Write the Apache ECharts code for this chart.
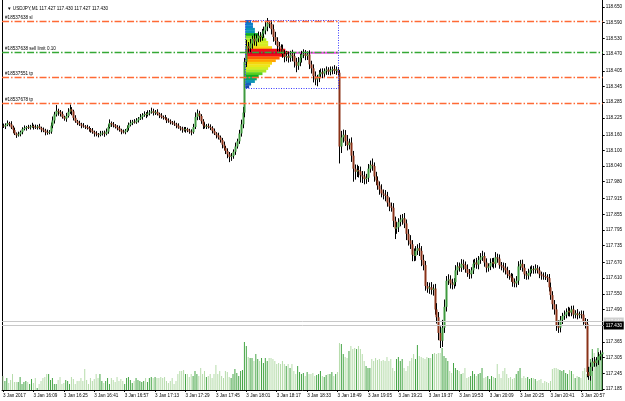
<!DOCTYPE html>
<html>
<head>
<meta charset="utf-8">
<script src="https://cdn.jsdelivr.net/npm/echarts@6/dist/echarts.min.js"></script>
<style>
  html, body { margin: 0; padding: 0; background: #fff; }
  #chart { width: 625px; height: 401px; }
</style>
</head>
<body>
<div id="chart"></div>
<script>
// USDJPY M1, 3 Jan 2017, first bar 15:53
const firstOpen = 118.195
const closes = [
  118.192, 118.198, 118.205, 118.200, 118.188, 118.178, 118.165, 118.158, 118.162, 118.170,
  118.182, 118.186, 118.190, 118.188, 118.192, 118.194, 118.190, 118.188, 118.192, 118.186,
  118.180, 118.176, 118.170, 118.168, 118.172, 118.195, 118.215, 118.238, 118.252, 118.248,
  118.240, 118.228, 118.222, 118.232, 118.248, 118.258, 118.250, 118.225, 118.212, 118.205,
  118.200, 118.195, 118.192, 118.190, 118.186, 118.182, 118.176, 118.170, 118.165, 118.162,
  118.160, 118.165, 118.168, 118.164, 118.172, 118.190, 118.205, 118.200, 118.196, 118.190,
  118.185, 118.178, 118.172, 118.170, 118.176, 118.186, 118.198, 118.205, 118.210, 118.208,
  118.215, 118.222, 118.228, 118.235, 118.240, 118.236, 118.242, 118.246, 118.250, 118.244,
  118.248, 118.240, 118.234, 118.228, 118.226, 118.222, 118.215, 118.212, 118.208, 118.204,
  118.200, 118.195, 118.188, 118.184, 118.180, 118.178, 118.182, 118.176, 118.172, 118.170,
  118.190, 118.228, 118.242, 118.232, 118.212, 118.196, 118.192, 118.194, 118.190, 118.186,
  118.175, 118.165, 118.158, 118.150, 118.140, 118.122, 118.110, 118.098, 118.085, 118.075,
  118.078, 118.095, 118.115, 118.135, 118.165, 118.200, 118.245, 118.440, 118.500, 118.492,
  118.510, 118.528, 118.518, 118.530, 118.540, 118.535, 118.548, 118.560, 118.575, 118.590,
  118.585, 118.565, 118.535, 118.520, 118.500, 118.495, 118.488, 118.470, 118.458, 118.462,
  118.455, 118.468, 118.462, 118.440, 118.425, 118.438, 118.455, 118.468, 118.470, 118.462,
  118.468, 118.430, 118.415, 118.385, 118.372, 118.378, 118.392, 118.400, 118.395, 118.405,
  118.410, 118.402, 118.408, 118.412, 118.405, 118.410, 118.398, 118.115, 118.150, 118.160,
  118.135, 118.120, 118.130, 118.080, 118.030, 118.018, 118.025, 118.020, 118.005, 118.000,
  117.990, 117.995, 118.030, 118.045, 118.040, 118.000, 117.985, 117.965, 117.950, 117.935,
  117.930, 117.925, 117.900, 117.885, 117.880, 117.830, 117.800, 117.805, 117.825, 117.835,
  117.840, 117.820, 117.780, 117.755, 117.740, 117.700, 117.695, 117.715, 117.725, 117.715,
  117.680, 117.660, 117.580, 117.570, 117.575, 117.565, 117.570, 117.490, 117.460, 117.400,
  117.370, 117.420, 117.500, 117.600, 117.605, 117.590, 117.585, 117.595, 117.640, 117.655,
  117.650, 117.665, 117.660, 117.645, 117.630, 117.625, 117.640, 117.665, 117.670, 117.662,
  117.680, 117.690, 117.695, 117.670, 117.650, 117.655, 117.668, 117.672, 117.665, 117.690,
  117.685, 117.660, 117.655, 117.650, 117.640, 117.625, 117.618, 117.612, 117.595, 117.590,
  117.600, 117.655, 117.665, 117.650, 117.625, 117.620, 117.630, 117.640, 117.645, 117.642,
  117.648, 117.640, 117.625, 117.620, 117.618, 117.615, 117.610, 117.575, 117.545, 117.510,
  117.490, 117.430, 117.420, 117.450, 117.465, 117.470, 117.480, 117.485, 117.478, 117.490,
  117.470, 117.475, 117.468, 117.472, 117.470, 117.445, 117.435, 117.250, 117.235, 117.270,
  117.290, 117.285, 117.295, 117.310, 117.318, 117.325
]
// wick lengths above / below the body, in points (0.001)
const upperWick = [
  8,6,10,5,12,7,9,4,10,6, 7,10,4,8,6,12,5,9,6,10, 5,8,7,10,6,12,15,10,22,8, 7,10,5,12,14,18,8,6,10,5,
  9,6,10,5,8,7,4,10,6,9, 5,10,7,8,12,10,14,6,9,5, 7,10,5,8,6,10,9,12,7,10, 9,6,12,8,10,7,12,9,14,10,
  7,10,5,9,6,10,5,8,7,5, 10,6,9,5,7,10,8,5,7,9, 12,18,15,10,7,8,12,7,9,10, 7,9,5,10,7,8,12,7,10,9,
  12,9,15,10,14,18,22,15,24,16, 18,12,20,15,16,14,18,15,20,18, 8,15,18,20,14,16,12,18,15,20, 16,14,18,12,15,20,16,14,18,15,
  12,16,14,15,18,12,16,14,15,10, 12,9,14,10,15,12,10,10,25,20, 18,24,15,20,18,16,20,15,18,16, 20,15,18,16,24,14,18,15,16,20,
  15,18,16,20,15,18,16,20,15,18, 16,20,15,18,20,16,24,18,15,20, 18,20,16,15,18,20,16,18,24,20, 25,30,28,18,20,16,18,15,20,16,
  15,18,16,14,18,15,12,16,14,18, 15,16,20,14,16,12,18,15,16,20, 14,16,12,15,18,14,16,12,15,14, 18,20,15,16,14,12,16,15,14,12,
  15,12,14,10,12,15,10,16,18,15, 16,20,18,15,12,16,14,15,12,14, 15,12,16,10,14,15,12,18,20,16, 14,18,12,16,15,14
]
const lowerWick = [
  6,10,5,8,6,12,6,10,5,8, 8,5,10,6,8,5,10,6,8,5, 10,6,12,8,6,8,10,12,8,15, 10,6,8,12,6,8,15,10,6,8,
  6,10,5,8,6,10,8,6,12,8, 10,6,8,12,6,8,6,10,8,6, 8,6,10,5,8,6,10,6,8,5, 6,8,5,10,6,12,6,8,5,10,
  8,6,10,6,8,5,10,6,8,6, 6,10,5,8,12,6,10,6,8,12, 6,8,12,15,10,14,8,10,6,8, 10,6,12,8,10,14,10,12,15,20,
  15,10,12,8,10,12,15,18,20,18, 15,20,16,18,15,18,14,16,15,18, 16,20,18,15,20,16,18,15,20,16, 18,15,20,22,25,16,15,18,14,16,
  15,18,20,24,22,26,16,15,18,14, 15,12,14,16,12,15,14,65,25,20, 18,20,16,24,50,30,20,24,28,25, 20,18,16,15,18,20,18,16,20,15,
  18,20,16,18,15,24,40,20,18,16, 20,18,24,20,18,25,20,18,16,20, 24,20,18,16,20,18,22,20,24,28, 28,24,20,18,16,20,18,15,16,18,
  15,16,18,14,15,18,16,14,15,16, 18,15,14,16,18,15,14,16,18,15, 16,14,15,18,16,15,14,16,18,15, 15,16,14,15,18,16,15,14,12,15,
  14,12,15,16,14,12,15,16,18,20, 20,22,20,18,16,15,14,16,15,14, 15,14,16,12,15,14,18,20,15,18, 16,15,14,18,15,16
]
const volumes = [
  14,9,12,7,10,16,8,8,8,13, 6,8,9,8,6,11,7,12,2,6, 9,12,13,16,16,10,12,6,6,10, 13,6,7,10,9,6,13,11,6,9,
  9,12,9,21,10,6,12,9,11,16, 12,16,9,7,9,12,6,12,10,8, 13,9,11,9,6,12,13,10,7,9, 12,10,9,8,9,12,8,12,13,12,
  13,12,12,13,12,13,9,7,9,12, 6,9,16,19,19,20,16,16,13,16, 14,19,16,14,22,16,19,13,14,16, 12,16,25,16,19,14,12,19,18,13,
  12,16,21,17,14,19,20,48,44,33, 32,32,29,36,31,29,32,27,32,29, 32,32,31,29,26,27,26,29,26,24, 26,22,26,19,16,24,18,16,17,14,
  18,16,16,17,14,15,16,19,14,13, 15,16,16,18,14,16,18,47,46,36, 33,32,39,44,41,42,41,44,41,36, 29,24,22,22,31,29,32,30,31,29,
  30,29,33,29,31,22,19,31,33,29, 31,22,19,24,29,32,36,31,45,34, 33,32,31,33,32,32,36,37,36,37, 37,42,34,32,29,19,17,27,22,20,
  19,16,17,22,12,13,14,19,16,14, 16,17,22,12,13,14,11,14,13,12, 26,16,12,19,22,16,12,13,11,12, 16,19,22,12,14,12,13,11,12,12,
  11,9,10,11,7,9,8,7,9,21, 22,22,21,20,19,20,17,16,20,19, 16,12,14,13,12,19,22,16,21,31, 41,37,31,42,36,36
]

const priceTicks = [117.185, 117.245, 117.305, 117.365, 117.430, 117.490, 117.550, 117.610, 117.670, 117.735,
  117.795, 117.855, 117.915, 117.980, 118.040, 118.100, 118.160, 118.225, 118.285, 118.345,
  118.405, 118.470, 118.530, 118.590, 118.650]

// market profile of bars 128..176
const profileBars = [128, 176]
const profileHigh = 118.600
const profileLow = 118.340
const profileStep = 0.01
const profileLevels = [118.595, 118.585, 118.575, 118.565, 118.555, 118.545, 118.535, 118.525, 118.515, 118.505,
  118.495, 118.485, 118.475, 118.465, 118.455, 118.445, 118.435, 118.425, 118.415, 118.405,
  118.395, 118.385, 118.375, 118.365, 118.355, 118.345]
const profileCounts = [3, 4, 4, 5, 5, 7, 10, 11, 12, 12,
  14, 21, 23, 21, 18, 16, 14, 13, 12, 11,
  9, 7, 6, 5, 3, 2]
const profileColors = ['#1848b0', '#0a8fd0', '#10b010', '#7ee02a', '#e8f020', '#ffc000', '#ff6a00', '#ff1010', '#d0002a']

const orderLines = [
  {name: '#18537638 sl', price: 118.598, color: '#ff6a35'},
  {name: '#18537638 sell limit 0.10', price: 118.478, color: '#35a835'},
  {name: '#18537551 tp', price: 118.381, color: '#ff6a35'},
  {name: '#18537678 tp', price: 118.281, color: '#ff6a35'}
]
const bid = 117.430
const ask = 117.446

const times = []
for (let k = 0; k < closes.length; k++) {
  const m = 15 * 60 + 53 + k
  times.push(String(Math.floor(m / 60)).padStart(2, '0') + ':' + String(m % 60).padStart(2, '0'))
}

const upColor = '#3f9a3f'
const downColor = '#8a3218'
const candles = []
const volData = []
for (let i = 0; i < closes.length; i++) {
  const o = i === 0 ? firstOpen : closes[i - 1]
  const c = closes[i]
  const h = Math.max(o, c) + upperWick[i] / 1000
  const l = Math.min(o, c) - lowerWick[i] / 1000
  candles.push([i, o, c, l, h])
  volData.push({value: volumes[i], itemStyle: {color: c >= o ? '#45a545' : '#b6dcab'}})
}

const chart = echarts.init(document.getElementById('chart'))
const fontFamily = 'Liberation Sans'
const maxCount = Math.max.apply(null, profileCounts)
const minCount = Math.min.apply(null, profileCounts)

const option = {
  animation: false,
  textStyle: {fontFamily: fontFamily},
  title: {
    text: '▼ USDJPY,M1 117.427 117.430 117.427 117.430',
    left: 2, top: 1,
    textStyle: {fontSize: 4.6, fontWeight: 'normal', color: '#000', fontFamily: fontFamily}
  },
  grid: {left: 2, right: 21, top: 0, bottom: 11},
  xAxis: {
    type: 'category',
    data: times,
    boundaryGap: true,
    axisLine: {lineStyle: {color: '#000', width: 1}},
    axisTick: {show: true, interval: 15, length: 2, alignWithLabel: true, lineStyle: {color: '#000'}},
    axisLabel: {
      interval: 15, fontSize: 4.6, color: '#000', align: 'left', margin: 3,
      formatter: (v, idx) => idx === 0 ? '3 Jan 2017' : '3 Jan ' + v
    },
    splitLine: {show: false}
  },
  yAxis: [
    {
      type: 'value', position: 'right', min: 117.181, max: 118.677, scale: true,
      axisLine: {show: true, lineStyle: {color: '#000'}},
      axisTick: {show: true, length: 2, customValues: priceTicks, lineStyle: {color: '#000'}},
      axisLabel: {customValues: priceTicks, fontSize: 4.6, color: '#000', margin: 3, formatter: v => v.toFixed(3)},
      splitLine: {show: false}
    },
    {
      type: 'value', position: 'left', min: 0, max: 390,
      axisLine: {show: true, lineStyle: {color: '#000'}},
      axisTick: {show: false}, axisLabel: {show: false}, splitLine: {show: false}
    }
  ],
  series: [
    {
      type: 'bar', yAxisIndex: 1, data: volData, barWidth: 1, z: 1, silent: true
    },
    {
      // market profile
      type: 'custom', z: 2, silent: true,
      data: profileLevels.map((p, k) => [profileBars[0], p, profileCounts[k]]),
      renderItem: function (params, api) {
        const p = api.value(1)
        const n = api.value(2)
        const bw = api.size([1, 0])[0]
        const a = api.coord([api.value(0), p + profileStep / 2])
        const b = api.coord([api.value(0), p - profileStep / 2])
        const x0 = a[0] - bw / 2
        const w = n * bw
        const fill = echarts.color.lerp((n - minCount) / (maxCount - minCount), profileColors)
        const children = [{
          type: 'rect', shape: {x: x0, y: a[1], width: w, height: b[1] - a[1] + 0.3},
          style: {fill: fill}
        }]
        if (n === maxCount) {
          const xEnd = x0 + (profileBars[1] - profileBars[0] + 1) * bw
          children.push({
            type: 'line', shape: {x1: x0 + w, y1: (a[1] + b[1]) / 2, x2: xEnd, y2: (a[1] + b[1]) / 2},
            style: {stroke: '#f050e8', lineWidth: 2}
          })
        }
        return {type: 'group', children: children}
      }
    },
    {
      // profile frame
      type: 'custom', z: 4, silent: true,
      data: [[profileBars[0], profileHigh, profileBars[1], profileLow]],
      renderItem: function (params, api) {
        const bw = api.size([1, 0])[0]
        const a = api.coord([api.value(0), api.value(1)])
        const b = api.coord([api.value(2), api.value(3)])
        return {
          type: 'rect',
          shape: {x: Math.round(a[0] - bw / 2) + 0.5, y: Math.round(a[1]) + 0.5, width: Math.round(b[0] - a[0] + bw), height: Math.round(b[1] - a[1])},
          style: {fill: 'none', stroke: '#3a3aff', lineWidth: 1, lineDash: [1, 1.5]}
        }
      }
    },
    {
      // candles
      type: 'custom', z: 3, silent: true,
      data: candles,
      encode: {x: 0, y: [1, 2, 3, 4]},
      renderItem: function (params, api) {
        const i = api.value(0)
        const o = api.value(1), c = api.value(2), l = api.value(3), h = api.value(4)
        const pO = api.coord([i, o]), pC = api.coord([i, c])
        const pL = api.coord([i, l]), pH = api.coord([i, h])
        const x = Math.round(pO[0]) + 0.5
        const top = Math.min(pO[1], pC[1])
        const bh = Math.max(Math.abs(pO[1] - pC[1]), 0.8)
        return {
          type: 'group',
          children: [
            {type: 'line', shape: {x1: x, y1: pH[1], x2: x, y2: pL[1]}, style: {stroke: '#000', lineWidth: 1}},
            {type: 'rect', shape: {x: x - 1, y: top, width: 2, height: bh}, style: {fill: c >= o ? upColor : downColor}}
          ]
        }
      }
    },
    {
      // order lines
      type: 'custom', z: 5, silent: true,
      data: orderLines.map((d, k) => [0, d.price, k]),
      renderItem: function (params, api) {
        const d = orderLines[api.value(2)]
        const cs = params.coordSys
        const y = Math.round(api.coord([0, api.value(1)])[1]) + 0.5
        return {
          type: 'group',
          children: [
            {type: 'line', shape: {x1: cs.x, y1: y, x2: cs.x + cs.width, y2: y},
              style: {stroke: d.color, lineWidth: 1.4, lineDash: [7, 2, 1.5, 2]}},
            {type: 'text', style: {text: d.name, x: cs.x + 3, y: y - 1.5, verticalAlign: 'bottom',
              font: '4.6px ' + fontFamily, fill: '#000'}}
          ]
        }
      }
    },
    {
      // ask / bid lines with price boxes
      type: 'custom', z: 6, silent: true,
      data: [[0, ask, 0], [0, bid, 1]],
      renderItem: function (params, api) {
        const cs = params.coordSys
        const isBid = api.value(2) === 1
        const y = Math.round(api.coord([0, api.value(1)])[1]) + 0.5
        const xr = cs.x + cs.width
        return {
          type: 'group',
          children: [
            {type: 'line', shape: {x1: cs.x, y1: y, x2: xr, y2: y}, style: {stroke: '#c8c8c8', lineWidth: 1}},
            {type: 'rect', shape: {x: xr + 1, y: y - 4, width: 20, height: 8},
              style: {fill: isBid ? '#000' : '#d0d0d0'}},
            {type: 'text', style: {text: api.value(1).toFixed(3), x: xr + 3, y: y, verticalAlign: 'middle',
              font: '4.6px ' + fontFamily, fill: isBid ? '#fff' : '#f4f4f4'}}
          ]
        }
      }
    }
  ]
}
chart.setOption(option)
</script>
</body>
</html>
